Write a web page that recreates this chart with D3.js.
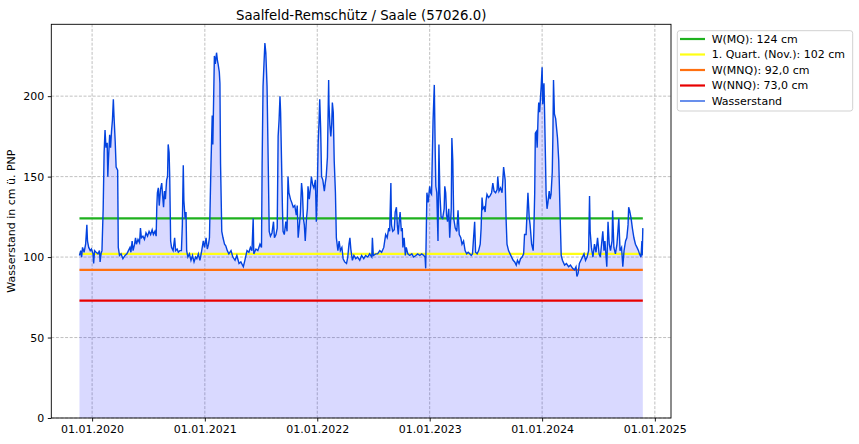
<!DOCTYPE html>
<html><head><meta charset="utf-8">
<script src="https://cdn.jsdelivr.net/npm/d3@7/dist/d3.min.js"></script>
<style>body{margin:0;background:#fff}svg{display:block;font-family:"DejaVu Sans",sans-serif}</style>
</head><body><svg id="c" width="859" height="444"></svg>
<script>
const title = "Saalfeld-Remschütz / Saale (57026.0)";
const yLabel = "Wasserstand in cm ü. PNP";
const xTickLabels = ["01.01.2020","01.01.2021","01.01.2022","01.01.2023","01.01.2024","01.01.2025"];
const yTicks = [0, 50, 100, 150, 200];
const refNames = ["W(MQ): 124 cm", "1. Quart. (Nov.): 102 cm", "W(MNQ): 92,0 cm", "W(NNQ): 73,0 cm"];
const refValues = [124, 102, 92, 73];
const seriesName = "Wasserstand";
const dates = [
"2019-11-21","2019-11-25","2019-11-28","2019-12-01","2019-12-06","2019-12-11","2019-12-15","2019-12-17","2019-12-21","2019-12-26","2019-12-30",
"2020-01-04","2020-01-06","2020-01-09","2020-01-14","2020-01-20","2020-01-25","2020-01-27","2020-01-30","2020-02-02","2020-02-06","2020-02-09",
"2020-02-12","2020-02-15","2020-02-19","2020-02-21","2020-02-23","2020-02-27","2020-03-01","2020-03-04","2020-03-07","2020-03-10","2020-03-12",
"2020-03-16","2020-03-19","2020-03-24","2020-03-26","2020-03-30","2020-04-04","2020-04-10","2020-04-17","2020-04-23","2020-04-28","2020-05-03",
"2020-05-06","2020-05-10","2020-05-13","2020-05-18","2020-05-21","2020-05-24","2020-05-29","2020-06-03","2020-06-06","2020-06-09","2020-06-14",
"2020-06-19","2020-06-24","2020-06-29","2020-07-04","2020-07-09","2020-07-14","2020-07-18","2020-07-23","2020-07-27","2020-07-29","2020-07-31",
"2020-08-03","2020-08-06","2020-08-10","2020-08-14","2020-08-17","2020-08-20","2020-08-23","2020-08-26","2020-08-30","2020-09-02","2020-09-04",
"2020-09-07","2020-09-09","2020-09-12","2020-09-15","2020-09-20","2020-09-25","2020-09-28","2020-10-03","2020-10-07","2020-10-12","2020-10-17",
"2020-10-20","2020-10-23","2020-10-25","2020-10-29","2020-11-01","2020-11-03","2020-11-07","2020-11-12","2020-11-17","2020-11-22","2020-11-27",
"2020-12-02","2020-12-06","2020-12-11","2020-12-16","2020-12-21","2020-12-27","2020-12-31",
"2021-01-05","2021-01-09","2021-01-13","2021-01-16","2021-01-21","2021-01-25","2021-01-27","2021-02-01","2021-02-04","2021-02-08","2021-02-11",
"2021-02-13","2021-02-17","2021-02-19","2021-02-21","2021-02-25","2021-03-01","2021-03-06","2021-03-10","2021-03-15","2021-03-20","2021-03-27",
"2021-04-02","2021-04-09","2021-04-15","2021-04-22","2021-04-28","2021-05-06","2021-05-11","2021-05-18","2021-05-24","2021-05-29","2021-06-03",
"2021-06-07","2021-06-09","2021-06-16","2021-06-22","2021-06-29","2021-07-04","2021-07-06","2021-07-09","2021-07-12","2021-07-15","2021-07-18",
"2021-07-22","2021-07-26","2021-07-29","2021-08-02","2021-08-07","2021-08-12","2021-08-15","2021-08-20","2021-08-24","2021-08-27","2021-08-30",
"2021-09-02","2021-09-04","2021-09-07","2021-09-10","2021-09-12","2021-09-16","2021-09-21","2021-09-25","2021-09-28","2021-10-01","2021-10-06",
"2021-10-10","2021-10-15","2021-10-20","2021-10-25","2021-10-28","2021-10-31","2021-11-04","2021-11-07","2021-11-11","2021-11-14","2021-11-17",
"2021-11-20","2021-11-23","2021-11-27","2021-11-30","2021-12-02","2021-12-06","2021-12-10","2021-12-13","2021-12-17","2021-12-21","2021-12-26",
"2021-12-29",
"2022-01-01","2022-01-04","2022-01-07","2022-01-09","2022-01-12","2022-01-15","2022-01-19","2022-01-24","2022-01-27","2022-01-30","2022-02-03",
"2022-02-07","2022-02-08","2022-02-11","2022-02-14","2022-02-17","2022-02-19","2022-02-22","2022-02-25","2022-03-01","2022-03-04","2022-03-09",
"2022-03-13","2022-03-17","2022-03-22","2022-03-26","2022-03-31","2022-04-06","2022-04-10","2022-04-14","2022-04-17","2022-04-20","2022-04-25",
"2022-04-30","2022-05-06","2022-05-12","2022-05-19","2022-05-25","2022-06-01","2022-06-07","2022-06-14","2022-06-20","2022-06-27","2022-06-29",
"2022-07-02","2022-07-10","2022-07-16","2022-07-23","2022-07-29","2022-08-05","2022-08-11","2022-08-16","2022-08-21","2022-08-24","2022-08-28",
"2022-08-30","2022-09-03","2022-09-08","2022-09-11","2022-09-15","2022-09-18","2022-09-21","2022-09-24","2022-09-27","2022-10-01","2022-10-04",
"2022-10-06","2022-10-10","2022-10-14","2022-10-17","2022-10-22","2022-10-28","2022-11-04","2022-11-10","2022-11-17","2022-11-23","2022-11-30",
"2022-12-06","2022-12-13","2022-12-17","2022-12-19","2022-12-23","2022-12-27",
"2023-01-01","2023-01-04","2023-01-07","2023-01-12","2023-01-16","2023-01-19","2023-01-21","2023-01-24","2023-01-28","2023-01-31","2023-02-03",
"2023-02-07","2023-02-12","2023-02-17","2023-02-19","2023-02-22","2023-02-25","2023-02-28","2023-03-04","2023-03-07","2023-03-12","2023-03-14",
"2023-03-17","2023-03-20","2023-03-25","2023-03-30","2023-04-03","2023-04-07","2023-04-12","2023-04-16","2023-04-21","2023-04-26","2023-05-01",
"2023-05-06","2023-05-11","2023-05-16","2023-05-20","2023-05-27","2023-05-30","2023-06-04","2023-06-09","2023-06-14","2023-06-17","2023-06-20",
"2023-06-23","2023-06-27","2023-06-30","2023-07-03","2023-07-06","2023-07-11","2023-07-16","2023-07-21","2023-07-25","2023-07-29","2023-08-03",
"2023-08-08","2023-08-10","2023-08-14","2023-08-19","2023-08-24","2023-08-29","2023-09-03","2023-09-06","2023-09-09","2023-09-14","2023-09-19",
"2023-09-24","2023-09-29","2023-10-04","2023-10-09","2023-10-13","2023-10-18","2023-10-23","2023-10-28","2023-11-02","2023-11-05","2023-11-10",
"2023-11-16","2023-11-20","2023-11-23","2023-11-28","2023-12-03","2023-12-05","2023-12-08","2023-12-10","2023-12-13","2023-12-16","2023-12-19",
"2023-12-21","2023-12-24","2023-12-27","2023-12-29",
"2024-01-01","2024-01-03","2024-01-07","2024-01-09","2024-01-12","2024-01-14","2024-01-17","2024-01-20","2024-01-24","2024-01-27","2024-01-30",
"2024-02-03","2024-02-05","2024-02-07","2024-02-10","2024-02-14","2024-02-17","2024-02-20","2024-02-24","2024-02-26","2024-02-29","2024-03-03",
"2024-03-07","2024-03-14","2024-03-20","2024-03-27","2024-04-02","2024-04-09","2024-04-15","2024-04-20","2024-04-23","2024-04-27","2024-05-01",
"2024-05-06","2024-05-11","2024-05-16","2024-05-21","2024-05-26","2024-05-31","2024-06-03","2024-06-05","2024-06-09","2024-06-14","2024-06-19",
"2024-06-24","2024-06-29","2024-07-04","2024-07-08","2024-07-13","2024-07-16","2024-07-20","2024-07-23","2024-07-29","2024-08-02","2024-08-06",
"2024-08-10","2024-08-15","2024-08-17","2024-08-21","2024-08-26","2024-08-31","2024-09-06","2024-09-10","2024-09-15","2024-09-19","2024-09-23",
"2024-09-28","2024-10-02","2024-10-06","2024-10-08","2024-10-11","2024-10-16","2024-10-20","2024-10-25","2024-10-30","2024-11-04","2024-11-09",
"2024-11-12","2024-11-17","2024-11-20","2024-11-21","2024-11-23"
];
const levels = [
101,104,100,106,103,108,120,110,106,104,105,
102,96,104,103,102,104,97,102,104,130,165,
179,168,171,150,160,176,168,178,185,198,188,
172,156,154,106,101,102,99,101,102,104,106,
103,110,104,108,112,108,111,109,118,112,113,
111,115,113,116,114,117,114,116,113,131,140,
143,132,142,146,138,131,141,136,148,150,170,
165,150,110,106,104,112,104,105,103,104,104,
120,157,135,124,128,104,100,102,98,101,97,
100,99,102,98,103,110,106,
112,105,108,112,158,188,170,225,220,227,222,
220,215,208,158,116,112,108,107,104,102,104,
100,98,101,96,97,94,98,104,103,106,104,
124,102,105,104,108,106,158,206,220,233,227,
206,156,116,113,115,122,112,114,118,175,185,
200,190,160,130,116,114,122,116,150,140,136,
134,131,132,126,132,112,120,127,146,140,124,
120,110,124,130,144,136,143,150,145,143,148,
122,
140,171,185,198,180,150,148,141,146,150,162,
210,195,182,175,183,196,190,160,140,112,104,
110,104,106,99,97,96,100,108,112,105,98,
101,99,100,98,101,99,101,100,102,100,112,
101,102,102,104,103,106,114,112,118,116,146,
120,116,117,128,131,120,114,122,128,116,118,
106,112,101,106,102,101,102,100,101,102,101,
102,101,100,93,140,134,
144,140,139,185,207,165,144,140,110,170,140,
125,124,130,144,140,126,122,130,112,130,174,
160,124,118,116,129,114,112,108,110,104,102,
103,102,101,102,122,103,102,104,108,118,137,
130,131,128,135,139,137,138,140,146,141,140,
142,150,141,143,140,156,148,124,108,104,102,
100,98,97,95,98,96,99,100,102,114,114,
140,125,120,108,104,115,140,177,178,168,188,
196,190,200,206,
218,195,208,190,160,139,130,134,141,136,139,
153,175,210,189,186,180,174,160,145,122,101,
98,95,96,94,95,93,92,94,88,90,96,
98,100,102,98,100,104,138,116,106,100,108,
103,112,102,100,110,116,104,110,94,122,108,
104,110,129,106,102,108,124,104,106,94,104,
110,112,120,131,129,124,118,112,108,106,104,
102,100,110,101,118
];

// styles
const refColors = ["#1fb11f", "#ffff14", "#ff7010", "#e80000"];
const lineColor = "#0343df";
const fillColor = "rgba(0,0,255,0.15)";

const W = 859, H = 444;
const L = 51.3, R = 671, T = 24.3, B = 418;
const svg = d3.select("#c");
svg.append("rect").attr("width", W).attr("height", H).attr("fill", "#fff");

const parse = d3.timeParse("%Y-%m-%d");
const data = dates.map((d, i) => ({ t: parse(d), v: levels[i] }));
const ext = d3.extent(data, d => d.t);
const span = ext[1] - ext[0];
const x = d3.scaleTime()
  .domain([new Date(+ext[0] - span * 0.05), new Date(+ext[1] + span * 0.05)])
  .range([L, R]);
const y = d3.scaleLinear().domain([0, d3.max(levels) * 1.05]).range([B, T]);

const tickParse = d3.timeParse("%d.%m.%Y");
const xTicks = xTickLabels.map(s => tickParse(s));

// grid
const grid = svg.append("g").attr("stroke", "#b0b0b0").attr("stroke-width", 0.8)
  .attr("stroke-dasharray", "3,1.6");
xTicks.forEach(t => grid.append("line").attr("x1", x(t)).attr("x2", x(t)).attr("y1", T).attr("y2", B));
yTicks.forEach(v => grid.append("line").attr("x1", L).attr("x2", R).attr("y1", y(v)).attr("y2", y(v)));

// fill
svg.append("path").datum(data)
  .attr("d", d3.area().x(d => x(d.t)).y0(y(0)).y1(d => y(d.v)))
  .attr("fill", fillColor);

// reference lines
refValues.forEach((v, i) => {
  svg.append("line").attr("x1", x(ext[0])).attr("x2", x(ext[1]))
    .attr("y1", y(v)).attr("y2", y(v))
    .attr("stroke", refColors[i]).attr("stroke-width", 2.2);
});

// series line
svg.append("path").datum(data)
  .attr("d", d3.line().x(d => x(d.t)).y(d => y(d.v)))
  .attr("fill", "none").attr("stroke", lineColor).attr("stroke-width", 1.4)
  .attr("stroke-linejoin", "miter");

// axes
const gx = svg.append("g").attr("transform", `translate(0,${B})`)
  .call(d3.axisBottom(x).tickValues(xTicks).tickFormat((d, i) => xTickLabels[i]).tickSize(3.5).tickPadding(3.5));
const gy = svg.append("g").attr("transform", `translate(${L},0)`)
  .call(d3.axisLeft(y).tickValues(yTicks).tickFormat(d3.format("d")).tickSize(3.5).tickPadding(3.5));
[gx, gy].forEach(g => {
  g.select(".domain").remove();
  g.selectAll("line").attr("stroke", "#000").attr("stroke-width", 0.9);
  g.selectAll("text").attr("fill", "#000").style("font-size", "11px").style("font-family", "DejaVu Sans");
});

// spines
svg.append("rect").attr("x", L).attr("y", T).attr("width", R - L).attr("height", B - T)
  .attr("fill", "none").attr("stroke", "#000").attr("stroke-width", 0.9);

// title & label
svg.append("text").attr("x", (L + R) / 2).attr("y", 19.5).attr("text-anchor", "middle")
  .style("font-size", "13.3px").text(title);
svg.append("text").attr("transform", `translate(15,${(T + B) / 2}) rotate(-90)`)
  .attr("text-anchor", "middle").style("font-size", "11px").text(yLabel);

// legend
const lg = svg.append("g");
lg.append("rect").attr("x", 677.3).attr("y", 30.7).attr("width", 175.4).attr("height", 80.3)
  .attr("rx", 2.5).attr("fill", "rgba(255,255,255,0.8)").attr("stroke", "#cccccc").attr("stroke-width", 0.9);
const entries = refNames.map((n, i) => ({ name: n, color: refColors[i], w: 2.2 }))
  .concat([{ name: seriesName, color: lineColor, w: 1.2 }]);
entries.forEach((e, i) => {
  const yy = 39 + i * 15.5;
  lg.append("line").attr("x1", 680).attr("x2", 705).attr("y1", yy).attr("y2", yy)
    .attr("stroke", e.color).attr("stroke-width", e.w);
  lg.append("text").attr("x", 711.7).attr("y", yy).attr("dy", "0.36em")
    .style("font-size", "11px").text(e.name);
});
</script>
</body></html>
